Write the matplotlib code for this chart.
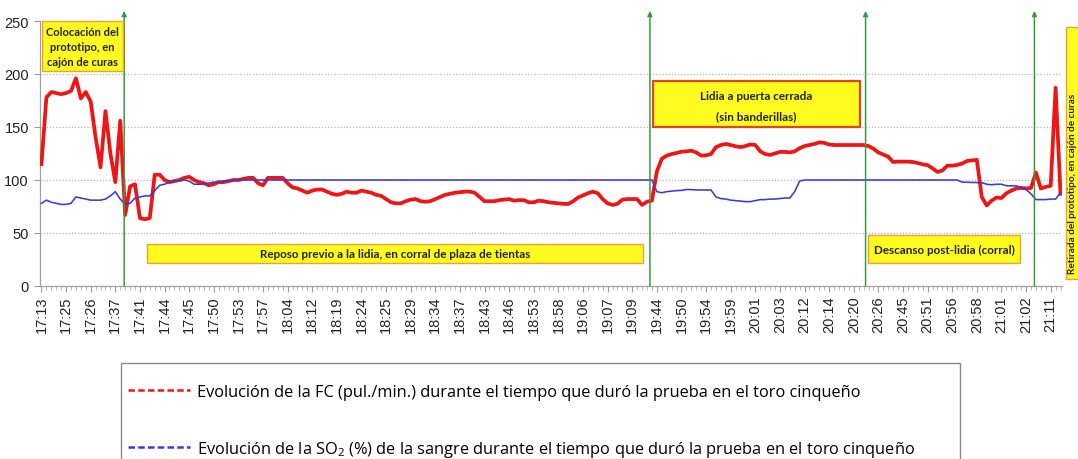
import matplotlib
matplotlib.use("Agg")
import matplotlib.pyplot as plt
from matplotlib.lines import Line2D
from matplotlib.patches import Rectangle

# ---------------- data ----------------
time_labels = ["17:13", "17:25", "17:26", "17:37", "17:41", "17:44", "17:45", "17:50",
               "17:53", "17:57", "18:04", "18:12", "18:19", "18:24", "18:25", "18:29",
               "18:34", "18:37", "18:43", "18:46", "18:53", "18:58", "19:06", "19:07",
               "19:09", "19:44", "19:50", "19:54", "19:59", "20:01", "20:03", "20:12",
               "20:14", "20:20", "20:26", "20:45", "20:51", "20:56", "20:58", "21:01",
               "21:02", "21:11"]

fc_values = [
    115, 178, 183, 182, 181, 182, 184, 196, 177, 183,
    174, 140, 112, 165, 125, 98, 156, 67, 94, 96,
    64, 63, 64, 105, 105, 100, 98, 99, 100, 102,
    103, 100, 98, 97, 95, 96, 98, 98, 99, 100,
    100, 101, 102, 102, 97, 95, 102, 102, 102, 102,
    97, 93, 92, 90, 88, 90, 91, 91, 89, 87,
    86, 87, 89, 88, 88, 90, 89, 88, 86, 85,
    82, 79, 78, 78, 80, 81.5, 82, 80, 79.5, 80,
    82, 84, 86, 87, 88, 88.5, 89, 89, 88, 84,
    80, 80, 80, 81, 81.5, 82, 80.5, 81, 81, 79,
    79, 80.5, 80, 79, 78.5, 78, 77.5, 77.4, 80, 83.5,
    85.5, 87.5, 89, 87.5, 82, 78, 76.5, 77.5, 81.5, 82,
    82, 82, 76.5, 79.5, 80.5, 108, 120, 123, 124.5, 125.5,
    126.7, 127, 127.7, 126, 123, 123.3, 124.5, 131, 133, 134,
    133, 131.8, 131, 132, 133.5, 133, 127, 124.5, 123.6, 125,
    126.5, 126.5, 126, 127, 130, 132, 133, 134, 135.5, 135,
    133.5, 133, 133, 133, 133, 133, 133, 133, 132, 129.5,
    126, 124, 122, 117, 117.3, 117.3, 117.3, 117, 116, 114.8,
    114, 111, 107.6, 109, 113.5, 113.5, 114.2, 115.5, 118, 118.5,
    119, 84, 76, 80.5, 83.5, 83, 87.5, 90, 92, 92.5,
    92, 92.5, 107, 92, 93.5, 94.5, 187, 87,
]

so2_values = [
    78, 81, 79, 78, 77, 77, 78, 84, 83, 82,
    81, 81, 81, 82, 85, 89, 82, 77, 78, 83,
    84, 85, 85, 90, 95, 96, 98, 99, 99, 100,
    99, 96, 96, 96, 97, 98, 98, 99, 99, 100,
    100, 100, 100, 100, 100, 100, 100, 100, 100, 100,
    100, 100, 100, 100, 100, 100, 100, 100, 100, 100,
    100, 100, 100, 100, 100, 100, 100, 100, 100, 100,
    100, 100, 100, 100, 100, 100, 100, 100, 100, 100,
    100, 100, 100, 100, 100, 100, 100, 100, 100, 100,
    100, 100, 100, 100, 100, 100, 100, 100, 100, 100,
    100, 100, 100, 100, 100, 100, 100, 100, 100, 100,
    100, 100, 100, 100, 100, 100, 100, 100, 100, 100,
    100, 100, 100, 100, 100, 89, 88, 89, 89.5, 90,
    90.2, 91, 91, 90.6, 90.6, 90.6, 90.6, 84, 82.5, 82,
    81, 80.5, 80, 79.6, 79.6, 80.5, 81.5, 81.5, 82, 82,
    82.5, 83, 83, 89, 99, 100, 100, 100, 100, 100,
    100, 100, 100, 100, 100, 100, 100, 100, 100, 100,
    100, 100, 100, 100, 100, 100, 100, 100, 100, 100,
    100, 100, 100, 100, 100, 100, 100, 98, 97.8, 97.7,
    97.6, 97.5, 96, 95.5, 96, 96, 94.6, 94.6, 94.5, 93,
    91, 87, 81.5, 81.5, 81.5, 82, 82, 88,
]

legend_labels = [
    "Evolución de la FC (pul./min.) durante el tiempo que duró la prueba en el toro cinqueño",
    "Evolución de la SO$_{\\mathrm{2}}$ (%) de la sangre durante el tiempo que duró la prueba en el toro cinqueño",
]

assert len(fc_values) == len(so2_values)

# ---------------- style ----------------
RED = "#ee1515"
BLUE = "#3a3ad8"
GREEN = "#3c9a3c"
YELLOW = "#fffb1e"
ORANGE = "#e9a23b"
LEG_FONT = "Open Sans"
LEG_SIZE = 11.8

plt.rcParams["mathtext.fontset"] = "custom"
plt.rcParams["mathtext.rm"] = LEG_FONT
plt.rcParams["mathtext.it"] = LEG_FONT + ":italic"
plt.rcParams["mathtext.bf"] = LEG_FONT + ":bold"

W, H = 1078, 460
fig = plt.figure(figsize=(W / 100, H / 100), dpi=100)
fig.patch.set_facecolor("white")


def fx(px):
    return px / W


def fy(py):
    return 1 - py / H


ax = fig.add_axes([fx(40), fy(287), fx(1062) - fx(40), fy(22) - fy(287)])

x = list(range(len(fc_values)))
ax.plot(x, fc_values, color=RED, lw=2.7, zorder=3, solid_joinstyle="round")
ax.plot(x, so2_values, color=BLUE, lw=1.15, zorder=4)

ax.set_xlim(-0.3, len(fc_values) - 0.7)
ax.set_ylim(0, 250)

step = 5
ax.set_xticks([i * step for i in range(len(time_labels))])
ax.set_xticklabels(time_labels, rotation=90, fontfamily="Liberation Sans", fontsize=10.5,
                   color="#222222")
ax.set_xticks(x, minor=True)
ax.set_yticks([0, 50, 100, 150, 200, 250])
ax.set_yticklabels(["0", "50", "100", "150", "200", "250"], fontfamily="Liberation Sans",
                   fontsize=10.5, color="#222222")
ax.tick_params(axis="x", which="major", length=4, color="#999999", pad=3)
ax.tick_params(axis="x", which="minor", length=3, color="#aaaaaa")
ax.tick_params(axis="y", which="major", length=4, color="#999999", pad=4)

for s in ["top", "right"]:
    ax.spines[s].set_visible(False)
for s in ["left", "bottom"]:
    ax.spines[s].set_color("#a0a0a0")
    ax.spines[s].set_linewidth(0.9)

ax.yaxis.grid(True, linestyle=(0, (1, 1.5)), color="#b5b5b5", lw=0.9)
ax.set_axisbelow(True)
ax.get_ygridlines()[-1].set_visible(False)
ax.get_ygridlines()[0].set_visible(False)

# event arrows
event_positions = [16.8, 123.6, 167.4, 201.7]
for p in event_positions:
    ax.annotate("", xy=(p, 1.038), xycoords=("data", "axes fraction"),
                xytext=(p, 0), textcoords=("data", "axes fraction"),
                arrowprops=dict(arrowstyle="-|>", color=GREEN, lw=1.1,
                                shrinkA=0, shrinkB=0, mutation_scale=7),
                annotation_clip=False, zorder=6)


# annotation boxes
def box(x0, y0, x1, y1, edge=ORANGE, lw=1.0):
    r = Rectangle((fx(x0), fy(y1)), fx(x1) - fx(x0), fy(y0) - fy(y1),
                  transform=fig.transFigure, facecolor=YELLOW, edgecolor=edge,
                  lw=lw, zorder=7)
    fig.add_artist(r)


def label(px, py, s, size=8.4, **kw):
    kw.setdefault("ha", "center")
    kw.setdefault("va", "center")
    fig.text(fx(px), fy(py), s, fontfamily="Lato", fontweight="bold", fontsize=size,
             color="#222222", zorder=8, **kw)


box(42, 22, 123, 72)
label(82.5, 47.5, "Colocación del\nprototipo, en\ncajón de curas", size=8.0, linespacing=1.45)

box(147, 245, 643, 264)
label(395, 254.5, "Reposo previo a la lidia, en corral de plaza de tientas")

box(653, 82, 860, 128, edge="#e0461c", lw=1.6)
label(756, 97, "Lidia a puerta cerrada")
label(756, 117, "(sin banderillas)")

box(868, 236, 1020, 264)
label(944, 250, "Descanso post-lidia (corral)")

box(1066, 28, 1100, 280)
fig.text(fx(1072.5), fy(274), "Retirada del prototipo, en cajón de curas", rotation=90,
         rotation_mode="anchor", ha="left", va="center", fontfamily="Lato",
         fontweight="bold", fontsize=7.2, color="#222222", zorder=8)

# legend
fig.add_artist(Rectangle((fx(121), fy(478)), fx(960) - fx(121), fy(364) - fy(478),
                         transform=fig.transFigure, facecolor="none",
                         edgecolor="#8a8a8a", lw=1.0, zorder=7))
fs_px = LEG_SIZE * 100 / 72
handles = [Line2D([], [], color=RED, lw=1.8, dashes=(2.6, 1.3)),
           Line2D([], [], color=BLUE, lw=1.8, dashes=(2.6, 1.3))]
fig.legend(handles, legend_labels, loc="upper left",
           bbox_to_anchor=(fx(128), fy(385)), bbox_transform=fig.transFigure,
           frameon=False, prop={"family": LEG_FONT, "size": LEG_SIZE},
           handlelength=62 / fs_px, handletextpad=7 / fs_px, labelspacing=2.35,
           borderpad=0, borderaxespad=0)

fig.savefig("out.png", dpi=100, facecolor="white")
